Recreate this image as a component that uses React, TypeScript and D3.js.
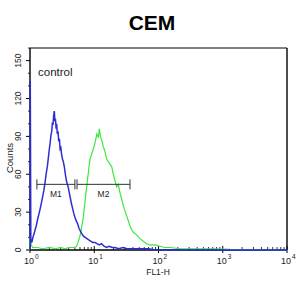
import * as d3 from 'd3';

// FL1-H channel values (log axis) and counts
const controlFL = [1.01, 1.01, 1.03, 1.07, 1.11, 1.16, 1.2, 1.25, 1.31, 1.37, 1.43, 1.5, 1.57, 1.64, 1.71, 1.78, 1.86, 1.93, 2.0, 2.06, 2.12, 2.18, 2.23, 2.28, 2.33, 2.39, 2.44, 2.49, 2.55, 2.6, 2.66, 2.73, 2.8, 2.87, 2.94, 3.02, 3.1, 3.2, 3.3, 3.42, 3.55, 3.68, 3.82, 3.96, 4.1, 4.25, 4.4, 4.6, 4.8, 5.0, 5.25, 5.5, 5.8, 6.1, 6.4, 6.8, 7.2, 7.7, 8.2, 8.8, 9.5, 10.3, 11, 12, 13, 14.2, 15.5, 17, 19, 21, 24, 28, 32, 38, 45, 55, 70, 90, 130, 200, 500, 1500, 10000];
const controlCounts = [0, 134, 9, 6, 10, 13, 16, 19, 24, 28, 32, 37, 42, 47, 53, 60, 66, 73, 80, 85, 91, 94, 101, 99, 106, 110, 102, 104, 96, 100, 92, 94, 86, 88, 80, 81, 76, 72, 70, 66, 60, 55, 52, 49, 45, 41, 37, 33, 29, 26, 23, 21, 17, 15, 13, 11, 10, 9, 8, 7, 6, 6, 5, 4, 5, 3, 2, 3, 2, 2, 1, 2, 1, 1, 1, 1, 1, 0, 0, 0, 0, 0, 0];

const sampleFL = [1.0, 1.0, 1.05, 1.1, 1.3, 1.6, 2.0, 2.5, 3.0, 3.5, 4.0, 4.5, 5.0, 5.32, 5.58, 6.0, 6.36, 6.76, 7.18, 7.62, 8.08, 8.59, 9.4, 10.3, 11.0, 11.6, 12.0, 12.5, 13.2, 13.8, 14.7, 15.6, 16.5, 17.6, 18.7, 19.8, 21.0, 22.3, 23.7, 25.2, 26.8, 28.4, 30.1, 32.0, 34.0, 36.0, 38.3, 40.6, 45.8, 51.5, 57.9, 65.3, 73.8, 88, 105, 126, 151, 215, 310, 443, 760, 1300, 10000];
const sampleCounts = [0, 10, 4, 2, 2, 1, 2, 1, 2, 1, 2, 2, 2, 3, 6, 11, 18, 26, 38, 50, 61, 72, 78, 85, 92, 89, 96, 90, 86, 82, 78, 72, 70, 68, 66, 60, 55, 50, 52, 45, 40, 35, 31, 27, 23, 19, 16, 14, 12, 9, 7, 5, 4, 4, 3, 2, 2, 1, 1, 1, 1, 0.5, 0];

const yTicks = [0, 30, 60, 90, 120, 150];
const xDecades = [0, 1, 2, 3, 4];

// gates: [name, start, end]
const markers: [string, number, number][] = [
  ['M1', 1.28, 5.0],
  ['M2', 5.39, 36],
];
const markerLevel = 52;

const left = 30;
const right = 287;
const top = 48;
const bottom = 250;

const App = () => {
  const x = d3.scaleLog().domain([1, 10000]).range([left, right]);
  const y = d3.scaleLinear().domain([0, 160]).range([bottom, top]);

  const line = d3
    .line<[number, number]>()
    .x((d) => x(d[0]))
    .y((d) => y(d[1]));

  const controlPts = controlFL.map((v, i) => [v, controlCounts[i]] as [number, number]);
  const samplePts = sampleFL.map((v, i) => [v, sampleCounts[i]] as [number, number]);

  const minorX: number[] = [];
  xDecades.slice(0, -1).forEach((e) => {
    for (let k = 2; k <= 9; k++) minorX.push(k * Math.pow(10, e));
  });
  const minorY = d3.range(0, 161, 10).filter((v) => v % 30 !== 0);

  const font = 'Liberation Sans, Arial, sans-serif';
  const my = y(markerLevel);

  return (
    <svg width={300} height={287} style={{ position: 'absolute', left: 0, top: 0, background: '#fff' }} fontFamily={font}>
      <text x={152} y={30} textAnchor="middle" fontSize={21} fontWeight="bold">
        CEM
      </text>

      {/* frame */}
      <line x1={left} x2={right} y1={top} y2={top} stroke="#000" strokeWidth={1} />
      <line x1={right} x2={right} y1={top} y2={bottom} stroke="#000" strokeWidth={1.4} />
      <line x1={left} x2={right} y1={bottom} y2={bottom} stroke="#000" strokeWidth={1.4} />
      <line x1={left} x2={left} y1={top} y2={bottom} stroke="#000" strokeWidth={1.4} />

      {/* y axis */}
      {yTicks.map((t) => (
        <g key={t}>
          <line x1={left - 4} x2={left} y1={y(t)} y2={y(t)} stroke="#000" />
          <text
            transform={`translate(${left - 9},${y(t)}) rotate(-90)`}
            textAnchor="middle"
            fontSize={8.5}
            fill="#222"
          >
            {t}
          </text>
        </g>
      ))}
      {minorY.map((t) => (
        <line key={t} x1={left - 2} x2={left} y1={y(t)} y2={y(t)} stroke="#000" strokeWidth={0.8} />
      ))}
      <text transform={`translate(13,158) rotate(-90)`} textAnchor="middle" fontSize={9.5} fill="#222">
        Counts
      </text>

      {/* x axis */}
      {xDecades.map((e) => (
        <g key={e}>
          <line x1={x(Math.pow(10, e))} x2={x(Math.pow(10, e))} y1={bottom - 4} y2={bottom + 3} stroke="#000" />
          <text x={x(Math.pow(10, e)) - 1} y={264} textAnchor="middle" fontSize={9} fill="#222">
            10
          </text>
          <text x={x(Math.pow(10, e)) + 5} y={259} fontSize={6.5} fill="#222">
            {e}
          </text>
        </g>
      ))}
      {minorX.map((v) => (
        <line key={v} x1={x(v)} x2={x(v)} y1={bottom - 3} y2={bottom} stroke="#000" strokeWidth={0.8} />
      ))}
      <text x={158} y={275} textAnchor="middle" fontSize={8.5} fill="#222">
        FL1-H
      </text>

      <text x={38} y={76} fontSize={11.5} fill="#222">
        control
      </text>

      {/* histograms */}
      <path d={line(samplePts) ?? ''} fill="none" stroke="#3de83d" strokeWidth={1.2} />
      <path d={line(controlPts) ?? ''} fill="none" stroke="#2d2dd2" strokeWidth={1.5} />

      {/* gates */}
      {markers.map(([name, a, b]) => (
        <g key={name} stroke="#333" strokeWidth={1}>
          <line x1={x(a)} x2={x(b)} y1={my} y2={my} />
          <line x1={x(a)} x2={x(a)} y1={my - 5} y2={my + 5} />
          <line x1={x(b)} x2={x(b)} y1={my - 5} y2={my + 5} />
          <text
            x={x(Math.sqrt(a * b))}
            y={my + 13}
            textAnchor="middle"
            fontSize={8.5}
            stroke="none"
            fill="#222"
          >
            {name}
          </text>
        </g>
      ))}
    </svg>
  );
};

export default App;
